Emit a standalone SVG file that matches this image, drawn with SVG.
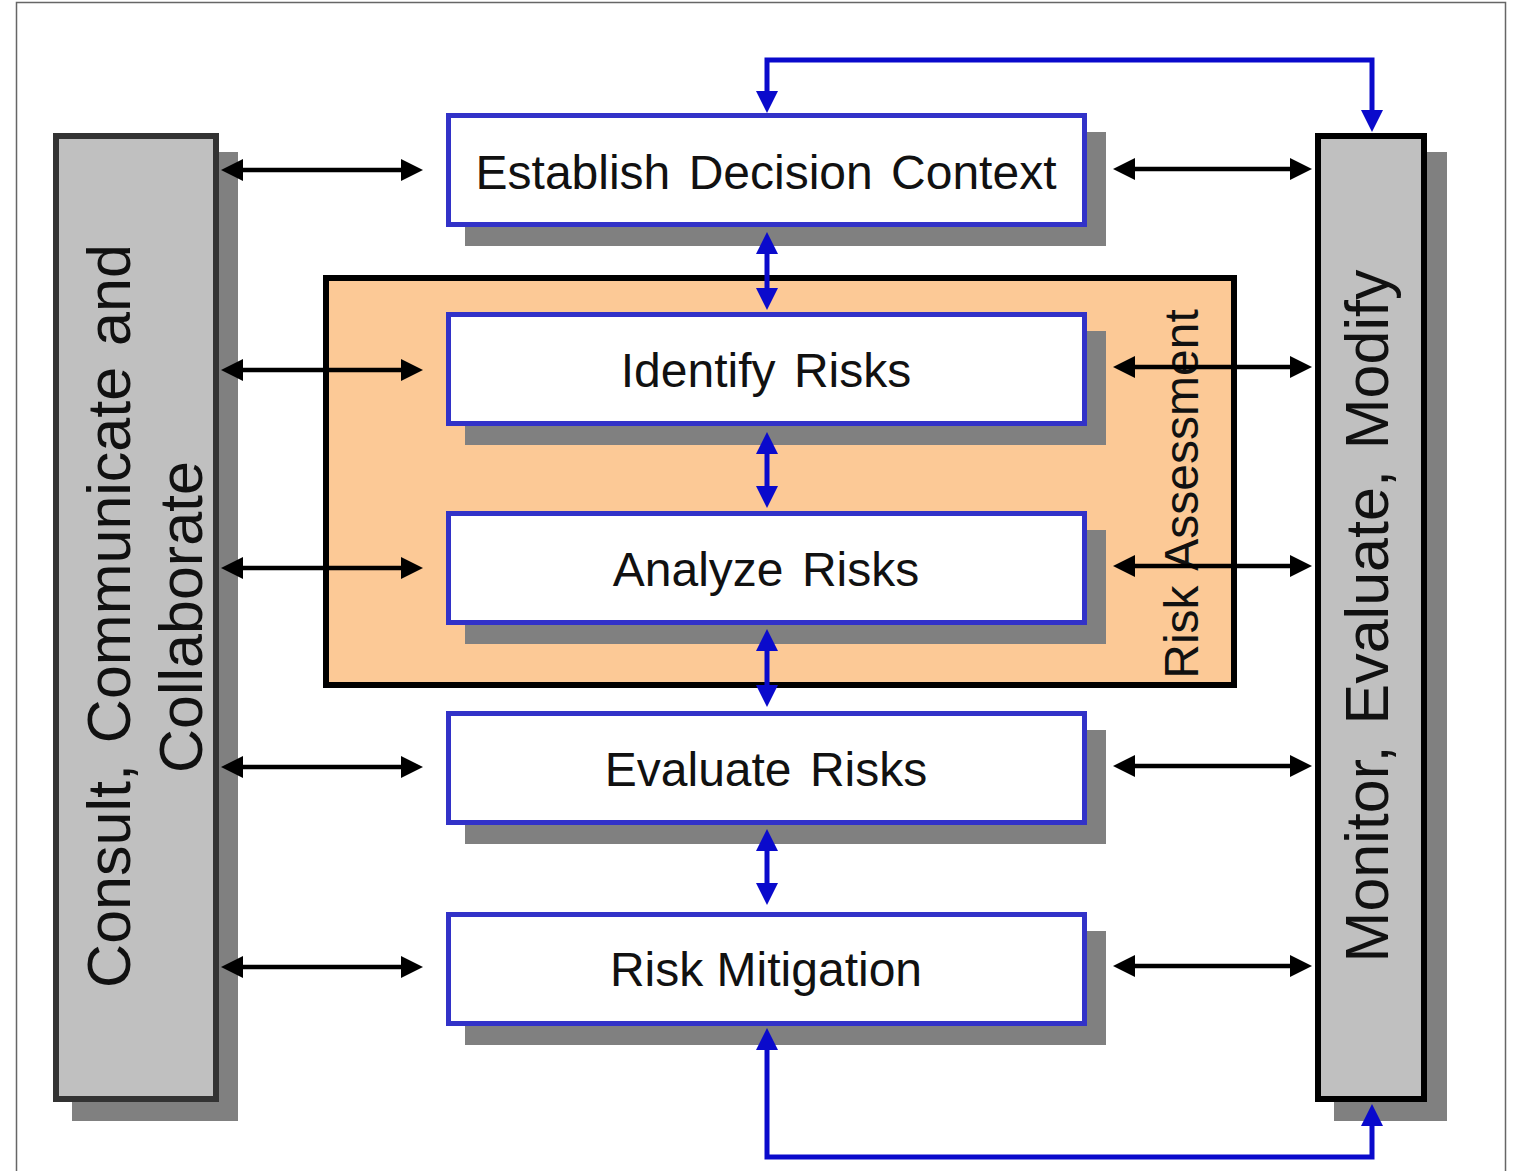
<svg xmlns="http://www.w3.org/2000/svg" width="1514" height="1171" viewBox="0 0 1514 1171">
  <style>
    .label { font-family: "Liberation Sans", Arial, sans-serif; fill: #111; }
    .step { font-size: 48px; text-anchor: middle; word-spacing: 5px; }
    .side { font-size: 61px; text-anchor: middle; word-spacing: 4px; }
    .shadow { fill: #808080; }
    .box { fill: #ffffff; stroke: #3232c8; stroke-width: 5; }
    .column { fill: #c0c0c0; stroke-width: 6; }
    .link { fill: none; stroke: #000; stroke-width: 4.5; marker-start: url(#headBlack); marker-end: url(#headBlack); }
    .flow { fill: none; stroke: #0a0acc; stroke-width: 5; }
  </style>
  <defs>
    <marker id="headBlack" markerUnits="userSpaceOnUse" markerWidth="22" markerHeight="22" refX="11" refY="11" orient="auto-start-reverse">
      <path d="M0,0 L22,11 L0,22 z" fill="#000"/>
    </marker>
    <marker id="headBlue" markerUnits="userSpaceOnUse" markerWidth="22" markerHeight="22" refX="11" refY="11" orient="auto-start-reverse">
      <path d="M0,0 L22,11 L0,22 z" fill="#0a0acc"/>
    </marker>
  </defs>

  <!-- page frame -->
  <rect x="16.5" y="2.5" width="1489" height="1200" fill="#fff" stroke="#666" stroke-width="1.5"/>

  <!-- left column -->
  <g id="consult">
    <rect class="shadow" x="72" y="152" width="166" height="969"/>
    <rect class="column" x="56" y="136" width="160" height="963" stroke="#333"/>
    <text class="label side" transform="translate(130,616) rotate(-90)">Consult, Communicate and</text>
    <text class="label side" transform="translate(202,617) rotate(-90)">Collaborate</text>
  </g>

  <!-- right column -->
  <g id="monitor">
    <rect class="shadow" x="1334" y="152" width="113" height="969"/>
    <rect class="column" x="1318" y="136" width="106" height="963" stroke="#000"/>
    <text class="label side" transform="translate(1388,616) rotate(-90)">Monitor, Evaluate, Modify</text>
  </g>

  <!-- risk assessment band -->
  <g id="risk-assessment">
    <rect x="326" y="278" width="908" height="407" fill="#fcc996" stroke="#000" stroke-width="6"/>
  </g>

  <!-- process steps -->
  <g id="establish">
    <rect class="shadow" x="465" y="132" width="641" height="114"/>
    <rect class="box" x="448.5" y="115.5" width="636" height="109"/>
    <text class="label step" x="766" y="189">Establish Decision Context</text>
  </g>
  <g id="identify">
    <rect class="shadow" x="465" y="331" width="641" height="114"/>
    <rect class="box" x="448.5" y="314.5" width="636" height="109"/>
    <text class="label step" x="766" y="387">Identify Risks</text>
  </g>
  <g id="analyze">
    <rect class="shadow" x="465" y="530" width="641" height="114"/>
    <rect class="box" x="448.5" y="513.5" width="636" height="109"/>
    <text class="label step" x="766" y="586">Analyze Risks</text>
  </g>
  <g id="evaluate">
    <rect class="shadow" x="465" y="730" width="641" height="114"/>
    <rect class="box" x="448.5" y="713.5" width="636" height="109"/>
    <text class="label step" x="766" y="786">Evaluate Risks</text>
  </g>
  <g id="mitigation">
    <rect class="shadow" x="465" y="931" width="641" height="114"/>
    <rect class="box" x="448.5" y="914.5" width="636" height="109"/>
    <text class="label step" x="766" y="986" style="word-spacing:0">Risk Mitigation</text>
  </g>

  <!-- band title, crossed by the monitor links -->
  <text class="label" x="0" y="0" font-size="48" text-anchor="middle" word-spacing="4" transform="translate(1198,494) rotate(-90)">Risk Assessment</text>

  <g id="connectors">
    <!-- consult links -->
    <line class="link" x1="232" y1="170" x2="412" y2="170"/>
    <line class="link" x1="232" y1="370" x2="412" y2="370"/>
    <line class="link" x1="232" y1="568" x2="412" y2="568"/>
    <line class="link" x1="232" y1="767" x2="412" y2="767"/>
    <line class="link" x1="232" y1="967" x2="412" y2="967"/>
    <!-- monitor links -->
    <line class="link" x1="1124" y1="169" x2="1301" y2="169"/>
    <line class="link" x1="1124" y1="367" x2="1301" y2="367"/>
    <line class="link" x1="1124" y1="566" x2="1301" y2="566"/>
    <line class="link" x1="1124" y1="766" x2="1301" y2="766"/>
    <line class="link" x1="1124" y1="966" x2="1301" y2="966"/>
    <!-- step to step -->
    <line class="flow" x1="767" y1="243" x2="767" y2="299" marker-start="url(#headBlue)" marker-end="url(#headBlue)"/>
    <line class="flow" x1="767" y1="443" x2="767" y2="497" marker-start="url(#headBlue)" marker-end="url(#headBlue)"/>
    <line class="flow" x1="767" y1="640" x2="767" y2="696" marker-start="url(#headBlue)" marker-end="url(#headBlue)"/>
    <line class="flow" x1="767" y1="840" x2="767" y2="894" marker-start="url(#headBlue)" marker-end="url(#headBlue)"/>
    <!-- feedback loops -->
    <polyline class="flow" points="767,102 767,60 1372,60 1372,121" marker-start="url(#headBlue)" marker-end="url(#headBlue)"/>
    <polyline class="flow" points="767,1039 767,1157 1372,1157 1372,1115" marker-start="url(#headBlue)" marker-end="url(#headBlue)"/>
  </g>
</svg>
